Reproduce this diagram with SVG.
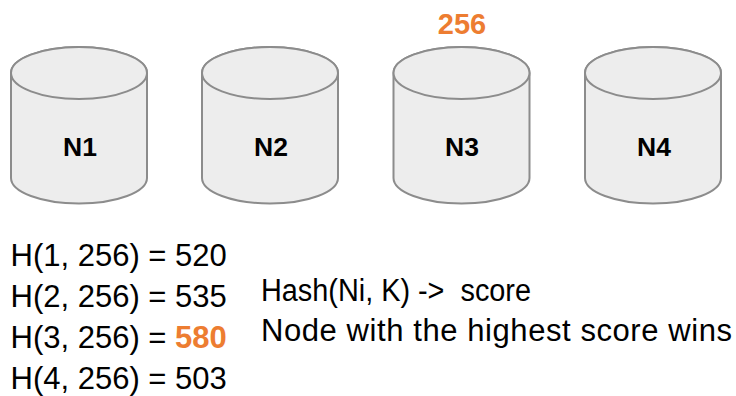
<svg xmlns="http://www.w3.org/2000/svg" width="736" height="396" viewBox="0 0 736 396">
  <style>
    .body { fill: #EDEDED; stroke: #8C8C8C; stroke-width: 2; }
    .label { font-family: "Liberation Sans", Arial, sans-serif; font-weight: bold; font-size: 26.5px; fill: #000; text-anchor: middle; }
    .key { font-family: "Liberation Sans", Arial, sans-serif; font-weight: bold; font-size: 29px; fill: #ED7D31; text-anchor: middle; }
    .txt { font-family: "Liberation Sans", Arial, sans-serif; font-size: 31px; fill: #000; }
    .hi { font-weight: bold; fill: #ED7D31; }
  </style>
  <defs>
    <!-- cylinder centred on x=0: side walls + bottom arc, then the top ellipse -->
    <g id="cyl">
      <path class="body" d="M -68 73 L -68 178 A 68 25.5 0 0 0 68 178 L 68 73 A 68 26 0 0 0 -68 73 Z"/>
      <ellipse class="body" cx="0" cy="73" rx="68" ry="26"/>
    </g>
  </defs>

  <text class="key" x="462" y="34">256</text>

  <g id="node-n1">
    <use href="#cyl" x="79"/>
    <text class="label" x="80" y="156">N1</text>
  </g>
  <g id="node-n2">
    <use href="#cyl" x="270"/>
    <text class="label" x="271" y="156">N2</text>
  </g>
  <g id="node-n3">
    <use href="#cyl" x="461.5"/>
    <text class="label" x="462" y="156">N3</text>
  </g>
  <g id="node-n4">
    <use href="#cyl" x="653"/>
    <text class="label" x="654" y="156">N4</text>
  </g>

  <g id="connectors"/>

  <g id="scores">
    <text class="txt" x="10.5" y="266">H(1, 256) = 520</text>
    <text class="txt" x="10.5" y="307">H(2, 256) = 535</text>
    <text class="txt" x="10.5" y="348">H(3, 256) = <tspan class="hi">580</tspan></text>
    <text class="txt" x="10.5" y="389">H(4, 256) = 503</text>
  </g>

  <g id="notes">
    <text class="txt" x="261" y="301" xml:space="preserve" style="white-space:pre" textLength="270" lengthAdjust="spacingAndGlyphs">Hash(Ni, K) -&gt;  score</text>
    <text class="txt" x="261" y="341" textLength="471" lengthAdjust="spacing">Node with the highest score wins</text>
  </g>
</svg>
